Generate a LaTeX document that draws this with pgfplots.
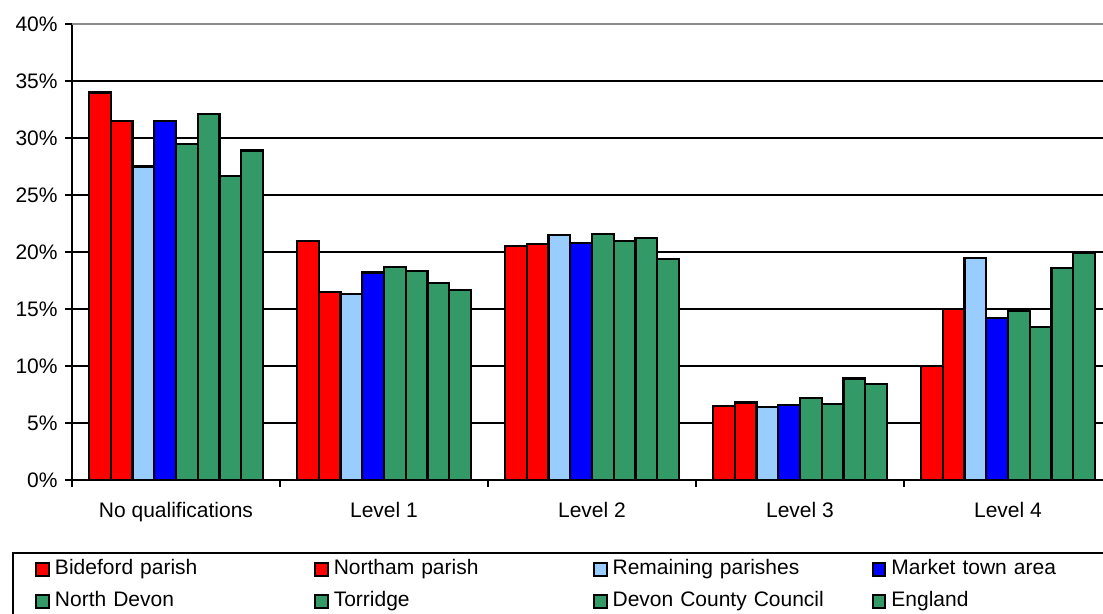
\documentclass[border=0pt]{standalone}
\usepackage{fontspec}
\setmainfont{Liberation Sans}
\usepackage{pgfplots}
\pgfplotsset{compat=1.18}

\definecolor{cRed}{HTML}{FF0000}
\definecolor{cLBlue}{HTML}{99CCFF}
\definecolor{cBlue}{HTML}{0000FF}
\definecolor{cGreen}{HTML}{339966}

\pgfplotsset{
  sqleg/.style={legend image code/.code={\draw[##1,line width=1pt] (0pt,-3.2pt) rectangle (6.4pt,3.2pt);}}
}

\begin{document}
\fontsize{10.5}{12.6}\selectfont
\begin{tikzpicture}[font=\fontsize{10.5}{12.6}\selectfont]
\begin{axis}[
    at={(36pt,-240pt)}, anchor=south west,
    scale only axis,
    width=520pt, height=228pt,
    xmin=-0.5, xmax=4.5,
    ymin=0, ymax=40,
    ybar=0pt, bar width=10.875pt,
    axis lines*=left,
    axis line style={line width=1.2pt},
    tick style={line width=1.2pt, black},
    tick align=outside,
    major tick length=3.5pt,
    xtick={-0.5,0.5,...,4.5},
    xticklabels={},
    extra x ticks={0,1,2,3,4},
    extra x tick labels={No qualifications,Level 1,Level 2,Level 3,Level 4},
    extra x tick style={major tick length=0pt, xticklabel style={yshift=-7.5pt}},
    ytick={0,5,...,35},
    extra y ticks={40},
    extra y tick style={grid style={color=gray!90, line width=1.2pt}},
    yticklabel={\pgfmathprintnumber{\tick}\%},
    /pgf/number format/assume math mode=true,
    ymajorgrids,
    grid style={black, line width=1.2pt},
    every axis plot/.append style={draw=black, line width=1.1pt},
    legend columns=4,
    legend cell align=left,
    legend style={
        at={(axis description cs:-0.0577,-0.1579)}, anchor=north west,
        draw=black, line width=1.2pt,
        inner xsep=11pt, inner ysep=0pt,
        /tikz/every odd column/.append style={column sep=2.5pt},
        /tikz/every even column/.append style={column sep=0pt},
        nodes={text width=129.5pt, text height=7.5pt, text depth=2.5pt,
               inner xsep=0pt, inner ysep=3pt},
    },
]
% Bideford parish
\addplot[fill=cRed, sqleg] coordinates {(0,34.0) (1,21.0) (2,20.5) (3,6.5) (4,10.0)};
\addlegendentry{Bideford parish}
% Northam parish
\addplot[fill=cRed, sqleg] coordinates {(0,31.5) (1,16.5) (2,20.7) (3,6.8) (4,15.0)};
\addlegendentry{Northam parish}
% Remaining parishes
\addplot[fill=cLBlue, sqleg] coordinates {(0,27.5) (1,16.3) (2,21.5) (3,6.4) (4,19.5)};
\addlegendentry{Remaining parishes}
% Market town area
\addplot[fill=cBlue, sqleg] coordinates {(0,31.5) (1,18.2) (2,20.8) (3,6.6) (4,14.2)};
\addlegendentry{Market town area}
% North Devon
\addplot[fill=cGreen, sqleg] coordinates {(0,29.5) (1,18.7) (2,21.6) (3,7.2) (4,14.8)};
\addlegendentry{North Devon}
% Torridge
\addplot[fill=cGreen, sqleg] coordinates {(0,32.1) (1,18.3) (2,21.0) (3,6.7) (4,13.4)};
\addlegendentry{Torridge}
% Devon County Council
\addplot[fill=cGreen, sqleg] coordinates {(0,26.7) (1,17.3) (2,21.2) (3,8.9) (4,18.6)};
\addlegendentry{Devon County Council}
% England
\addplot[fill=cGreen, sqleg] coordinates {(0,28.9) (1,16.7) (2,19.4) (3,8.4) (4,19.9)};
\addlegendentry{England}
\end{axis}
\pgfresetboundingbox
\useasboundingbox (0pt,0pt) rectangle (551.5pt,-307pt);
\end{tikzpicture}
\end{document}
